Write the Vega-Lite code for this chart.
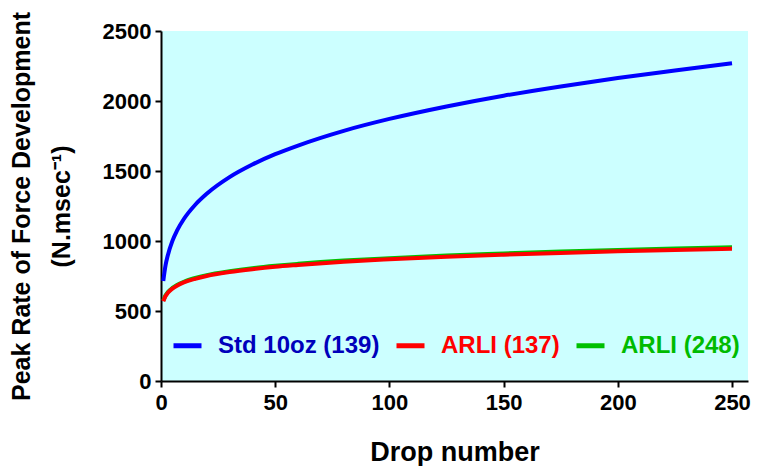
{
  "$schema": "https://vega.github.io/schema/vega-lite/v6.json",
  "width": 587,
  "height": 350,
  "autosize": "none",
  "padding": {"left": 161, "top": 31, "right": 14, "bottom": 85},
  "background": "white",
  "config": {
    "view": {"fill": "#CCFFFF", "stroke": null},
    "font": "Liberation Sans",
    "axis": {
      "domainColor": "black", "domainWidth": 2, "tickColor": "black", "tickWidth": 2, "tickSize": 6,
      "labelFont": "Liberation Sans", "labelFontWeight": "bold", "labelFontSize": 22, "labelColor": "black",
      "titleFont": "Liberation Sans", "titleFontWeight": "bold", "titleFontSize": 25, "titleColor": "black",
      "grid": false
    }
  },
  "data": {"values": [
    {"drop": 1, "value": 715, "series": "Std 10oz (139)"},
    {"drop": 2, "value": 827, "series": "Std 10oz (139)"},
    {"drop": 3, "value": 899, "series": "Std 10oz (139)"},
    {"drop": 5, "value": 1001, "series": "Std 10oz (139)"},
    {"drop": 7, "value": 1074, "series": "Std 10oz (139)"},
    {"drop": 10, "value": 1157, "series": "Std 10oz (139)"},
    {"drop": 15, "value": 1259, "series": "Std 10oz (139)"},
    {"drop": 20, "value": 1337, "series": "Std 10oz (139)"},
    {"drop": 30, "value": 1456, "series": "Std 10oz (139)"},
    {"drop": 40, "value": 1546, "series": "Std 10oz (139)"},
    {"drop": 50, "value": 1620, "series": "Std 10oz (139)"},
    {"drop": 60, "value": 1682, "series": "Std 10oz (139)"},
    {"drop": 80, "value": 1787, "series": "Std 10oz (139)"},
    {"drop": 100, "value": 1872, "series": "Std 10oz (139)"},
    {"drop": 125, "value": 1961, "series": "Std 10oz (139)"},
    {"drop": 150, "value": 2038, "series": "Std 10oz (139)"},
    {"drop": 175, "value": 2104, "series": "Std 10oz (139)"},
    {"drop": 200, "value": 2164, "series": "Std 10oz (139)"},
    {"drop": 225, "value": 2218, "series": "Std 10oz (139)"},
    {"drop": 250, "value": 2270, "series": "Std 10oz (139)"},
    {"drop": 1, "value": 575, "series": "ARLI (248)"},
    {"drop": 2, "value": 612, "series": "ARLI (248)"},
    {"drop": 3, "value": 635, "series": "ARLI (248)"},
    {"drop": 5, "value": 665, "series": "ARLI (248)"},
    {"drop": 7, "value": 686, "series": "ARLI (248)"},
    {"drop": 10, "value": 709, "series": "ARLI (248)"},
    {"drop": 15, "value": 736, "series": "ARLI (248)"},
    {"drop": 20, "value": 756, "series": "ARLI (248)"},
    {"drop": 30, "value": 784, "series": "ARLI (248)"},
    {"drop": 40, "value": 806, "series": "ARLI (248)"},
    {"drop": 50, "value": 823, "series": "ARLI (248)"},
    {"drop": 60, "value": 837, "series": "ARLI (248)"},
    {"drop": 80, "value": 860, "series": "ARLI (248)"},
    {"drop": 100, "value": 877, "series": "ARLI (248)"},
    {"drop": 125, "value": 896, "series": "ARLI (248)"},
    {"drop": 150, "value": 911, "series": "ARLI (248)"},
    {"drop": 175, "value": 925, "series": "ARLI (248)"},
    {"drop": 200, "value": 936, "series": "ARLI (248)"},
    {"drop": 225, "value": 946, "series": "ARLI (248)"},
    {"drop": 250, "value": 955, "series": "ARLI (248)"},
    {"drop": 1, "value": 570, "series": "ARLI (137)"},
    {"drop": 2, "value": 607, "series": "ARLI (137)"},
    {"drop": 3, "value": 630, "series": "ARLI (137)"},
    {"drop": 5, "value": 660, "series": "ARLI (137)"},
    {"drop": 7, "value": 681, "series": "ARLI (137)"},
    {"drop": 10, "value": 704, "series": "ARLI (137)"},
    {"drop": 15, "value": 730, "series": "ARLI (137)"},
    {"drop": 20, "value": 750, "series": "ARLI (137)"},
    {"drop": 30, "value": 778, "series": "ARLI (137)"},
    {"drop": 40, "value": 799, "series": "ARLI (137)"},
    {"drop": 50, "value": 816, "series": "ARLI (137)"},
    {"drop": 60, "value": 829, "series": "ARLI (137)"},
    {"drop": 80, "value": 852, "series": "ARLI (137)"},
    {"drop": 100, "value": 869, "series": "ARLI (137)"},
    {"drop": 125, "value": 887, "series": "ARLI (137)"},
    {"drop": 150, "value": 902, "series": "ARLI (137)"},
    {"drop": 175, "value": 915, "series": "ARLI (137)"},
    {"drop": 200, "value": 926, "series": "ARLI (137)"},
    {"drop": 225, "value": 936, "series": "ARLI (137)"},
    {"drop": 250, "value": 945, "series": "ARLI (137)"}
  ]},
  "mark": {"type": "line", "strokeWidth": 4, "interpolate": "monotone", "clip": true},
  "encoding": {
    "x": {
      "field": "drop", "type": "quantitative",
      "scale": {"domain": [0, 257], "nice": false, "zero": false},
      "axis": {"values": [0, 50, 100, 150, 200, 250], "format": "d", "title": "Drop number", "titleFontSize": 27, "titlePadding": 26, "labelPadding": 5, "labelFlush": false}
    },
    "y": {
      "field": "value", "type": "quantitative",
      "scale": {"domain": [0, 2500], "nice": false},
      "axis": {"values": [0, 500, 1000, 1500, 2000, 2500], "format": "d", "title": ["Peak Rate of Force Development", "(N.msec⁻¹)"], "titlePadding": 28, "titleLineHeight": 40, "labelPadding": 4, "labelFlush": false}
    },
    "color": {
      "field": "series", "type": "nominal",
      "scale": {"domain": ["Std 10oz (139)", "ARLI (137)", "ARLI (248)"], "range": ["#0000FF", "#FF0000", "#00C000"]},
      "legend": {
        "orient": "none", "legendX": 10, "legendY": 298, "direction": "horizontal", "title": null,
        "symbolType": "stroke", "symbolSize": 784, "symbolStrokeWidth": 5,
        "labelFontSize": 24, "labelFontWeight": "bold", "labelFont": "Liberation Sans",
        "labelOffset": 14, "columnPadding": 6, "labelLimit": 300,
        "encode": {"labels": {"update": {"fill": {"signal": "datum.value === 'Std 10oz (139)' ? '#0000BB' : datum.value === 'ARLI (137)' ? '#FF0000' : '#00BB00'"}}}}
      }
    },
    "order": {"field": "series"}
  }
}
